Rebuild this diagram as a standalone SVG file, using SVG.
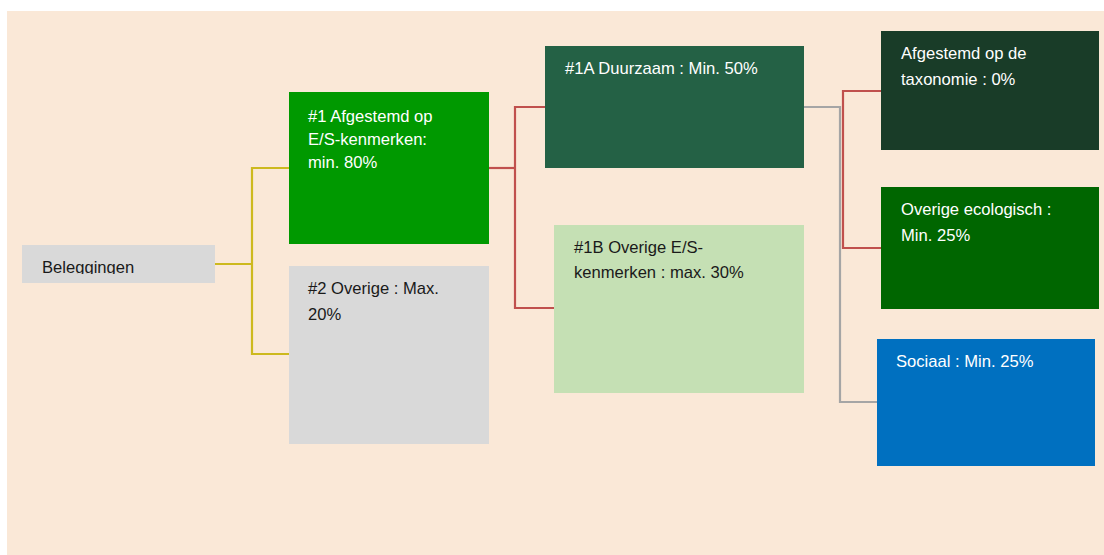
<svg xmlns="http://www.w3.org/2000/svg" width="1104" height="555" viewBox="0 0 1104 555">
<style>
.t{font-family:"Liberation Sans",Arial,sans-serif;font-size:16.6px}
.w{fill:#ffffff}
.k{fill:#1a1a1a}
.c{fill:none;stroke-width:2.2}
.y{stroke:#CDB91E}
.r{stroke:#C0504D}
.g{stroke:#A5A5A5}
</style>
<defs>
<clipPath id="clipBel"><rect x="22" y="245" width="193" height="29"/></clipPath>
</defs>
<rect x="0" y="0" width="1104" height="555" fill="#ffffff"/>
<rect x="7" y="11" width="1097" height="544" fill="#FAE8D7"/>
<g id="connectors">
<polyline class="c y" points="215,264 252,264"/>
<polyline class="c y" points="289,168 252,168 252,354 289,354"/>
<polyline class="c r" points="489,168 515,168"/>
<polyline class="c r" points="545,107 515,107 515,308 554,308"/>
<polyline class="c g" points="804,107 840,107 840,402 877,402"/>
<polyline class="c r" points="881,91 843,91 843,248 881,248"/>
</g>
<g id="beleggingen">
<rect x="22" y="245" width="193" height="38" fill="#D9D9D9"/>
<text class="t k" x="42" y="273" clip-path="url(#clipBel)">Beleggingen</text>
</g>
<g id="n1">
<rect x="289" y="92" width="200" height="152" fill="#009900"/>
<text class="t w" x="308" y="122">#1 Afgestemd op</text>
<text class="t w" x="308" y="145">E/S-kenmerken:</text>
<text class="t w" x="308" y="168">min. 80%</text>
</g>
<g id="n2">
<rect x="289" y="266" width="200" height="178" fill="#D9D9D9"/>
<text class="t k" x="308" y="294">#2 Overige : Max.</text>
<text class="t k" x="308" y="320">20%</text>
</g>
<g id="n1a">
<rect x="545" y="46" width="259" height="122" fill="#246145"/>
<text class="t w" x="565" y="74">#1A Duurzaam : Min. 50%</text>
</g>
<g id="n1b">
<rect x="554" y="225" width="250" height="168" fill="#C5E0B4"/>
<text class="t k" x="574" y="253">#1B Overige E/S-</text>
<text class="t k" x="574" y="278">kenmerken : max. 30%</text>
</g>
<g id="taxonomie">
<rect x="881" y="31" width="218" height="119" fill="#193C28"/>
<text class="t w" x="901" y="59">Afgestemd op de</text>
<text class="t w" x="901" y="85">taxonomie : 0%</text>
</g>
<g id="ecologisch">
<rect x="881" y="187" width="218" height="122" fill="#006600"/>
<text class="t w" x="901" y="215">Overige ecologisch :</text>
<text class="t w" x="901" y="241">Min. 25%</text>
</g>
<g id="sociaal">
<rect x="877" y="339" width="218" height="127" fill="#0070C0"/>
<text class="t w" x="896" y="367">Sociaal : Min. 25%</text>
</g>
</svg>
